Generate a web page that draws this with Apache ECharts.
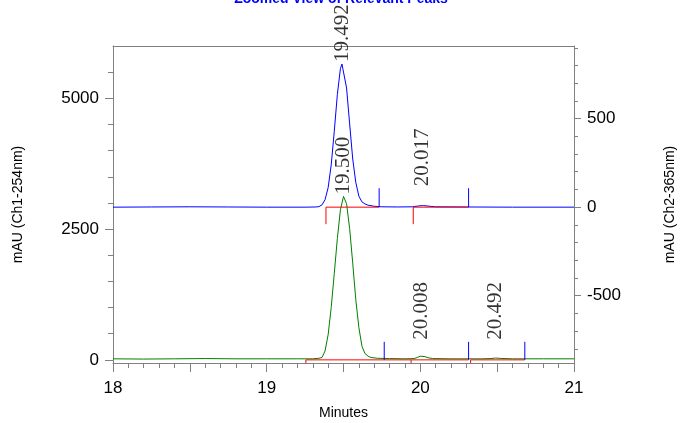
<!DOCTYPE html>
<html>
<head>
<meta charset="utf-8">
<script src="https://cdn.jsdelivr.net/npm/echarts@6/dist/echarts.min.js"></script>
<style>
  html, body { margin: 0; padding: 0; background: #fff; }
  #chart { width: 682px; height: 423px; }
</style>
</head>
<body>
<div id="chart"></div>
<script>
// Ch1 (254 nm, left axis, green trace)
const ch1Time = [18.00, 18.20, 18.40, 18.60, 18.80, 19.00, 19.20, 19.30, 19.34, 19.36, 19.38, 19.40, 19.42, 19.44, 19.46, 19.48, 19.50, 19.52, 19.54, 19.56, 19.58, 19.60, 19.62, 19.64, 19.66, 19.68, 19.72, 19.80, 19.90, 19.96, 19.98, 20.00, 20.01, 20.03, 20.05, 20.08, 20.20, 20.40, 20.46, 20.49, 20.52, 20.60, 20.80, 21.00]
const ch1Abs = [20, 15, 20, 25, 20, 20, 20, 20, 30, 45, 170, 480, 1000, 1650, 2320, 2870, 3125, 2985, 2510, 1850, 1150, 620, 260, 120, 70, 45, 30, 25, 20, 25, 45, 70, 75, 62, 40, 25, 20, 20, 25, 35, 28, 20, 20, 20]

// Ch2 (365 nm, right axis, blue trace)
const ch2Time = [18.00, 18.25, 18.50, 18.75, 19.00, 19.25, 19.32, 19.34, 19.36, 19.38, 19.40, 19.42, 19.44, 19.46, 19.48, 19.49, 19.50, 19.52, 19.54, 19.56, 19.58, 19.60, 19.62, 19.64, 19.66, 19.70, 19.75, 19.85, 19.95, 19.99, 20.02, 20.05, 20.10, 20.30, 20.60, 21.00]
const ch2Abs = [0, 1, 2, 1, 0, 0, 1, 3, 13, 42, 110, 238, 428, 636, 783, 808, 798, 673, 470, 272, 140, 62, 30, 18, 11, 5, 2, 1, 2, 7, 9, 6, 2, 1, 0, 0]

// integration baselines (start -> end) and peak end markers
const ch1BaseStart = [19.255, 19.940, 20.327]
const ch1BaseEnd = [19.940, 20.314, 20.680]
const ch1PeakEnd = [19.765, 20.314, 20.680]
const ch2BaseStart = [19.386, 19.954]
const ch2BaseEnd = [19.732, 20.314]
const ch2PeakEnd = [19.732, 20.314]

// labelled peaks
const ch1PeakTimes = [19.500, 20.008, 20.492]
const ch1PeakApex = [3125, 75, 35]
const ch2PeakTimes = [19.492, 20.017]
const ch2PeakApex = [808, 9]

// axis ticks
const xTicks = [18, 19, 20, 21]
const leftTicks = [0, 2500, 5000]
const leftMinor = [500, 1000, 1500, 2000, 3000, 3500, 4000, 4500, 5500]
const rightTicks = [-500, 0, 500]
const rightMinor = [-800, -700, -600, -400, -300, -200, -100, 100, 200, 300, 400, 600, 700, 800, 900]

const AXIS = '#808080'
const LEFT_RANGE = [-60, 6000]
const RIGHT_RANGE = [-880, 910]
// marker heights in axis units
const ch1Drop = 60, ch1Tick = 345, ch2Drop = 96, ch2Tick = 107

const zip = (a, b) => a.map((t, i) => [t, b[i]])
const font = { fontFamily: 'Liberation Sans', color: '#000' }

// red integration baselines: a short drop at the start, then flat to the end
function segSeries(starts, ends, drop, yIdx) {
  return starts.map((s, i) => ({
    type: 'line', xAxisIndex: 0, yAxisIndex: yIdx, symbol: 'none', silent: true, z: 4,
    itemStyle: { color: '#ff0000' },
    lineStyle: { color: '#ff0000', width: 1, opacity: 1 },
    data: [[s, -drop], [s, 0], [ends[i], 0]]
  }))
}
function tickSeries(times, h, yIdx) {
  return times.map((t) => ({
    type: 'line', xAxisIndex: 0, yAxisIndex: yIdx, symbol: 'none', silent: true, z: 5,
    itemStyle: { color: '#0000ff' }, lineStyle: { color: '#0000ff', width: 1 },
    data: [[t, 0], [t, h]]
  }))
}
function labelSeries(times, apex, tickH, yIdx) {
  return {
    type: 'scatter', xAxisIndex: 0, yAxisIndex: yIdx, symbolSize: 0, silent: true, z: 6,
    data: times.map((t, i) => ({ value: [t, Math.max(apex[i], tickH)], name: t.toFixed(3) })),
    label: {
      show: true, formatter: '{b}', rotate: 90, position: 'top', distance: 2,
      align: 'left', verticalAlign: 'middle',
      fontFamily: 'Liberation Serif', fontSize: 21, color: '#000'
    }
  }
}

const chart = echarts.init(document.getElementById('chart'), null, { renderer: 'canvas' })
chart.setOption({
  animation: false,
  backgroundColor: '#fff',
  title: {
    text: 'Zoomed View of Relevant Peaks', left: 'center', top: -13,
    textStyle: { color: '#0000ff', fontFamily: 'Liberation Sans', fontSize: 14, fontWeight: 'bold' }
  },
  grid: { left: 113, right: 108, top: 46, bottom: 60, outerBoundsMode: 'none', containLabel: false },
  xAxis: [
    {
      type: 'value', min: 18, max: 21, interval: 0.5,
      name: 'Minutes', nameLocation: 'middle', nameGap: 43,
      nameTextStyle: { ...font, fontSize: 14 },
      axisLine: { onZero: false, lineStyle: { color: AXIS } },
      axisTick: { length: 9, lineStyle: { color: AXIS } },
      minorTick: { show: true, splitNumber: 5, length: 5, lineStyle: { color: AXIS } },
      axisLabel: {
        ...font, fontSize: 17, margin: 17,
        formatter: (v) => (xTicks.includes(v) ? String(v) : '')
      },
      splitLine: { show: false }
    },
    {
      type: 'value', position: 'top', min: 18, max: 21,
      axisLine: { onZero: false, lineStyle: { color: AXIS } },
      axisTick: { show: false }, axisLabel: { show: false }, splitLine: { show: false }
    }
  ],
  yAxis: [
    {
      type: 'value', position: 'left', min: LEFT_RANGE[0], max: LEFT_RANGE[1],
      name: 'mAU (Ch1-254nm)', nameLocation: 'middle', nameGap: 88,
      nameTextStyle: { ...font, fontSize: 14 },
      axisLine: { show: true, onZero: false, lineStyle: { color: AXIS } },
      axisTick: { show: true, length: 8, customValues: leftTicks, lineStyle: { color: AXIS } },
      axisLabel: { customValues: leftTicks, ...font, fontSize: 17, margin: 14, formatter: (v) => String(v) },
      splitLine: { show: false }
    },
    {
      type: 'value', position: 'right', min: RIGHT_RANGE[0], max: RIGHT_RANGE[1],
      name: 'mAU (Ch2-365nm)', nameLocation: 'middle', nameGap: 89,
      nameTextStyle: { ...font, fontSize: 14 },
      axisLine: { show: true, onZero: false, lineStyle: { color: AXIS } },
      axisTick: { show: true, length: 7, customValues: rightTicks, lineStyle: { color: AXIS } },
      axisLabel: { customValues: rightTicks, ...font, fontSize: 17, margin: 13, formatter: (v) => String(v) },
      splitLine: { show: false }
    },
    {
      type: 'value', position: 'left', min: LEFT_RANGE[0], max: LEFT_RANGE[1],
      axisLine: { show: false, onZero: false },
      axisTick: { show: true, length: 5, customValues: leftMinor, lineStyle: { color: AXIS } },
      axisLabel: { show: false }, splitLine: { show: false }
    },
    {
      type: 'value', position: 'right', min: RIGHT_RANGE[0], max: RIGHT_RANGE[1],
      axisLine: { show: false, onZero: false },
      axisTick: { show: true, length: 4, customValues: rightMinor, lineStyle: { color: AXIS } },
      axisLabel: { show: false }, splitLine: { show: false }
    }
  ],
  series: [
    {
      type: 'line', xAxisIndex: 0, yAxisIndex: 0, symbol: 'none', silent: true, z: 2,
      itemStyle: { color: '#008000' }, lineStyle: { color: '#008000', width: 1 },
      data: zip(ch1Time, ch1Abs)
    },
    {
      type: 'line', xAxisIndex: 0, yAxisIndex: 1, symbol: 'none', silent: true, z: 3,
      itemStyle: { color: '#0000ff' }, lineStyle: { color: '#0000ff', width: 1 },
      data: zip(ch2Time, ch2Abs)
    },
    ...segSeries(ch1BaseStart, ch1BaseEnd, ch1Drop, 0),
    ...segSeries(ch2BaseStart, ch2BaseEnd, ch2Drop, 1),
    ...tickSeries(ch1PeakEnd, ch1Tick, 0),
    ...tickSeries(ch2PeakEnd, ch2Tick, 1),
    labelSeries(ch1PeakTimes, ch1PeakApex, ch1Tick, 0),
    labelSeries(ch2PeakTimes, ch2PeakApex, ch2Tick, 1)
  ]
})
</script>
</body>
</html>
